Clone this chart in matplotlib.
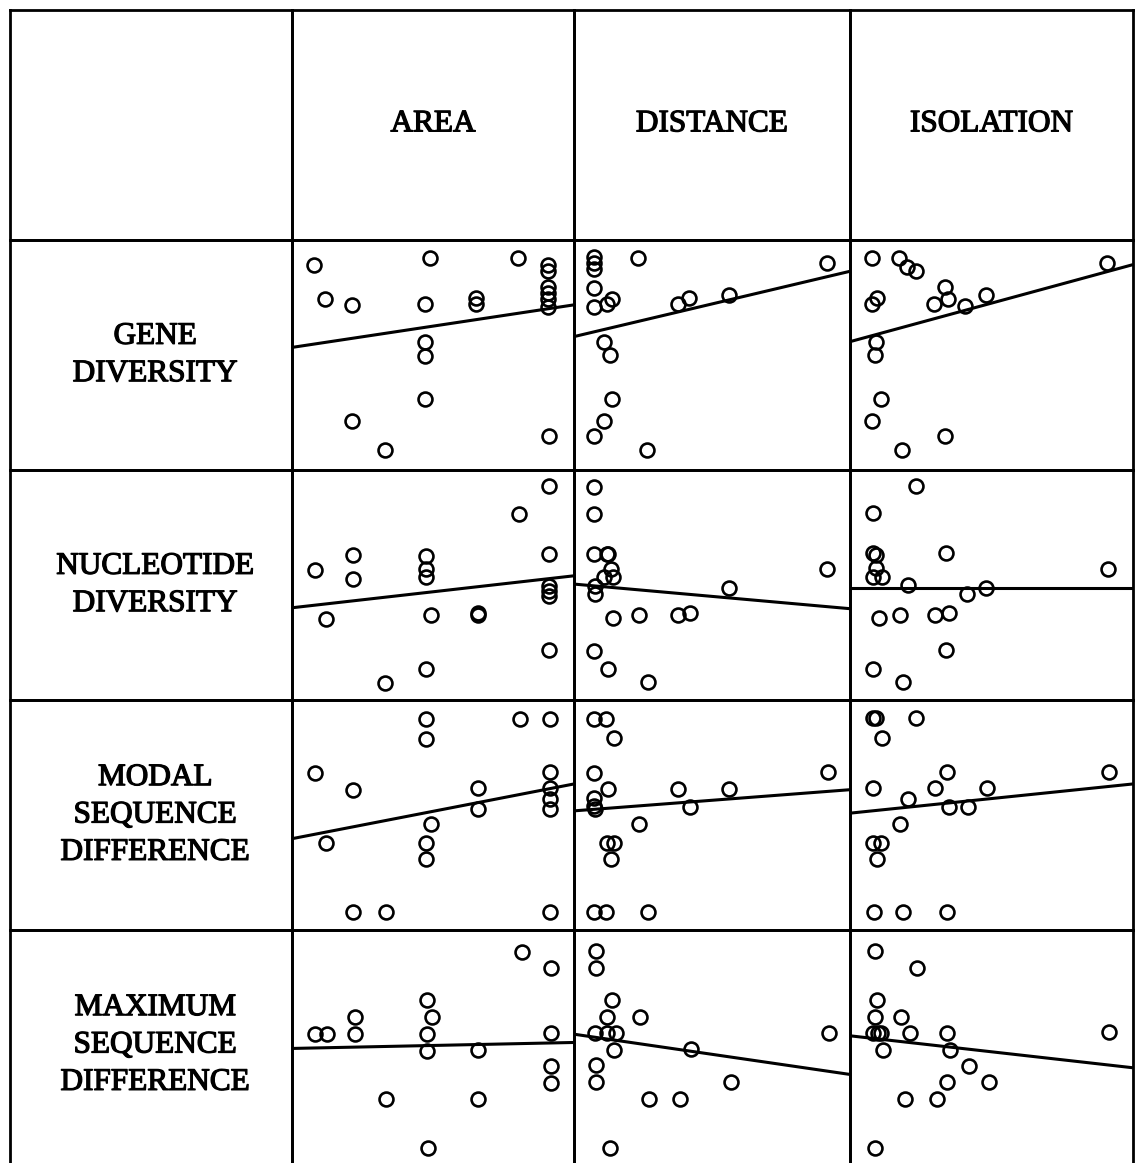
import matplotlib
matplotlib.use("Agg")
import matplotlib.pyplot as plt
import matplotlib.patheffects as pe

# ---------------- data (relative units 0-100) ----------------
columns = ["AREA", "DISTANCE", "ISOLATION"]
rows_lbl = ["GENE\nDIVERSITY", "NUCLEOTIDE\nDIVERSITY",
            "MODAL\nSEQUENCE\nDIFFERENCE", "MAXIMUM\nSEQUENCE\nDIFFERENCE"]

# Gene diversity
gene_area_x = [7.9, 49.1, 80.3, 90.9, 90.9, 90.9, 90.9, 90.9, 90.9, 11.8, 21.3, 47.0, 65.4, 65.4,
               47.0, 47.0, 47.0, 21.3, 33.1, 91.2]
gene_area_y = [89.3, 92.0, 92.0, 89.1, 86.7, 79.6, 77.1, 74.5, 70.8, 74.2, 71.8, 72.0, 74.7, 72.3,
               55.8, 49.6, 30.9, 21.2, 8.5, 14.6]
gene_dist_x = [7.2, 7.2, 7.2, 7.2, 7.2, 23.3, 91.8, 13.6, 12.1, 37.6, 41.7, 56.0, 10.9, 13.0,
               13.8, 10.9, 7.2, 26.3]
gene_dist_y = [92.7, 90.2, 87.6, 79.3, 70.8, 92.3, 90.1, 74.5, 72.3, 72.3, 74.7, 75.9, 55.8, 49.9,
               30.9, 21.5, 14.6, 8.8]
gene_iso_x = [7.9, 17.3, 20.2, 23.2, 90.8, 9.6, 7.9, 29.6, 33.5, 34.7, 40.8, 47.9, 9.1, 8.7,
              10.8, 7.9, 33.5, 18.5]
gene_iso_y = [92.3, 92.3, 88.3, 86.4, 90.2, 74.7, 72.3, 72.3, 79.6, 74.5, 71.5, 75.9, 55.8, 49.9,
              30.9, 21.5, 14.6, 8.8]

# Nucleotide diversity
nuc_area_x = [91.2, 80.6, 8.3, 21.6, 21.6, 47.4, 47.4, 47.4, 91.2, 91.2, 91.2, 91.2, 12.1, 49.4,
              65.8, 65.8, 91.2, 47.4, 33.1]
nuc_area_y = [93.1, 81.0, 56.5, 63.2, 52.8, 62.5, 56.9, 53.3, 63.5, 49.6, 47.4, 45.3, 35.3, 36.8,
              37.7, 36.8, 21.6, 13.4, 7.6]
nuc_dist_x = [7.3, 7.3, 7.3, 11.8, 12.4, 13.3, 10.9, 14.2, 7.5, 7.5, 91.8, 56.2, 14.2, 23.6,
              37.8, 42.1, 7.3, 12.4, 26.7]
nuc_dist_y = [92.7, 81.0, 63.5, 63.5, 63.5, 56.9, 53.3, 53.3, 49.6, 46.0, 56.9, 48.5, 35.5, 36.9,
              36.9, 38.0, 21.5, 13.4, 7.7]
nuc_iso_x = [23.2, 8.2, 8.2, 9.1, 33.8, 9.1, 8.2, 11.2, 20.5, 41.4, 48.2, 91.1, 10.2, 17.6,
             30.0, 34.9, 34.0, 8.2, 18.7]
nuc_iso_y = [93.1, 81.3, 63.9, 63.1, 63.8, 57.2, 53.3, 53.3, 49.9, 46.3, 48.6, 56.9, 35.8, 36.9,
             36.9, 38.0, 21.6, 13.4, 7.7]

# Modal sequence difference
mod_area_x = [47.4, 47.4, 80.8, 91.5, 8.3, 21.6, 91.5, 91.5, 91.5, 91.5, 65.8, 65.8, 49.4, 12.1,
              47.4, 47.4, 21.8, 33.2, 91.5]
mod_area_y = [91.7, 83.2, 91.7, 91.7, 68.3, 61.0, 68.6, 61.6, 56.9, 52.8, 61.6, 52.8, 46.0, 37.7,
              37.7, 30.9, 7.7, 7.7, 7.7]
mod_dist_x = [7.3, 11.5, 14.4, 7.3, 12.4, 7.3, 7.3, 7.5, 37.8, 56.2, 42.1, 92.1, 23.6, 12.1,
              14.5, 13.3, 7.3, 11.5, 26.7]
mod_dist_y = [91.7, 91.7, 83.5, 68.3, 61.3, 57.2, 54.0, 52.8, 61.3, 61.3, 53.3, 68.6, 46.0, 38.0,
              38.0, 30.9, 7.7, 7.7, 7.7]
mod_iso_x = [8.2, 9.1, 23.4, 11.2, 8.2, 20.6, 30.2, 34.1, 48.5, 91.4, 34.9, 41.6, 17.6, 8.2,
             10.8, 9.4, 8.5, 18.8, 34.1]
mod_iso_y = [92.0, 92.0, 92.0, 83.6, 61.6, 56.9, 61.6, 68.6, 61.6, 68.6, 53.3, 53.3, 46.0, 38.0,
             38.0, 30.9, 8.0, 8.0, 8.0]

# Maximum sequence difference
max_area_x = [81.4, 91.8, 47.9, 49.8, 22.2, 22.2, 8.3, 12.4, 47.9, 47.9, 66.0, 91.8, 91.8, 91.8,
              33.4, 66.0, 48.2]
max_area_y = [90.5, 83.6, 69.6, 62.3, 62.3, 54.7, 54.7, 54.7, 55.0, 47.4, 47.9, 55.2, 40.9, 33.6,
              26.6, 26.6, 5.1]
max_dist_x = [7.8, 7.8, 13.6, 11.8, 23.9, 7.5, 11.8, 15.2, 14.5, 42.4, 92.4, 7.8, 7.8, 57.0,
              27.2, 38.4, 13.0]
max_dist_y = [90.8, 83.5, 69.6, 62.0, 62.3, 55.2, 55.2, 55.2, 47.9, 48.2, 55.2, 41.2, 33.9, 33.9,
              26.6, 26.6, 5.1]
max_iso_x = [8.7, 23.8, 9.6, 8.7, 18.1, 8.2, 9.9, 10.8, 21.1, 34.4, 11.6, 35.5, 42.2, 34.4,
             49.1, 19.3, 30.6, 91.6, 8.8]
max_iso_y = [90.8, 83.6, 69.6, 62.3, 62.3, 55.2, 55.2, 55.2, 55.2, 55.2, 47.9, 47.9, 40.9, 33.9,
             33.9, 26.6, 26.6, 55.5, 5.1]

# Fitted regression lines: value at left edge and at right edge of each panel
fit_gene = [(53.3, 71.8), (58.0, 86.4), (55.8, 89.3)]
fit_nuc = [(40.1, 54.0), (50.4, 39.7), (48.6, 48.6)]
fit_mod = [(39.7, 63.5), (51.8, 61.0), (50.8, 63.5)]
fit_max = [(48.5, 51.1), (54.7, 37.2), (54.0, 40.1)]

panels = [
    [(gene_area_x, gene_area_y), (gene_dist_x, gene_dist_y), (gene_iso_x, gene_iso_y)],
    [(nuc_area_x, nuc_area_y), (nuc_dist_x, nuc_dist_y), (nuc_iso_x, nuc_iso_y)],
    [(mod_area_x, mod_area_y), (mod_dist_x, mod_dist_y), (mod_iso_x, mod_iso_y)],
    [(max_area_x, max_area_y), (max_dist_x, max_dist_y), (max_iso_x, max_iso_y)],
]
fits = [fit_gene, fit_nuc, fit_mod, fit_max]

# ---------------- layout ----------------
W, H = 1135, 1163
fig = plt.figure(figsize=(W / 100, H / 100), dpi=100)
fig.patch.set_facecolor("white")

col_edges = [10, 292, 574, 850, 1133]
row_edges = [10, 240, 470, 700, 930, 1160]
FONT = ["Liberation Serif", "DejaVu Serif"]
FS = 22.5
LW = 2.0
THICK = [pe.withStroke(linewidth=0.9, foreground="black")]


def cell(x0, x1, y0, y1):
    ax = fig.add_axes([x0 / W, 1 - y1 / H, (x1 - x0) / W, (y1 - y0) / H])
    ax.set_xticks([])
    ax.set_yticks([])
    for s in ax.spines.values():
        s.set_linewidth(LW)
        s.set_color("black")
    ax.patch.set_alpha(0)
    return ax


# corner cell
cell(col_edges[0], col_edges[1], row_edges[0], row_edges[1])

# header cells
for j, name in enumerate(columns):
    ax = cell(col_edges[j + 1], col_edges[j + 2], row_edges[0], row_edges[1])
    ax.text(0.5, 0.505, name, ha="center", va="center", fontsize=FS,
            family=FONT, transform=ax.transAxes, path_effects=THICK)

# row label cells and scatter panels
for i, lbl in enumerate(rows_lbl):
    y0, y1 = row_edges[i + 1], row_edges[i + 2]
    ylo = 0
    if i == len(rows_lbl) - 1:
        # last row runs past the bottom edge of the image
        ylo = -100 * 6 / (y1 - y0)
        y1 = y1 + 6
    ax = cell(col_edges[0], col_edges[1], y0, y1)
    ax.set_ylim(ylo, 100)
    ax.set_xlim(0, 100)
    ax.text(51.5, 50, lbl, ha="center", va="center", fontsize=FS,
            family=FONT, linespacing=1.38, path_effects=THICK)
    for j in range(3):
        ax = cell(col_edges[j + 1], col_edges[j + 2], y0, y1)
        xs, ys = panels[i][j]
        ax.plot(xs, ys, linestyle="none", marker="o", markersize=10,
                markerfacecolor="none", markeredgecolor="black",
                markeredgewidth=1.9, clip_on=False)
        left, right = fits[i][j]
        ax.plot([0, 100], [left, right], color="black", linewidth=2.2,
                solid_capstyle="butt")
        ax.set_xlim(0, 100)
        ax.set_ylim(ylo, 100)

fig.savefig("out.png", dpi=100, facecolor="white")
